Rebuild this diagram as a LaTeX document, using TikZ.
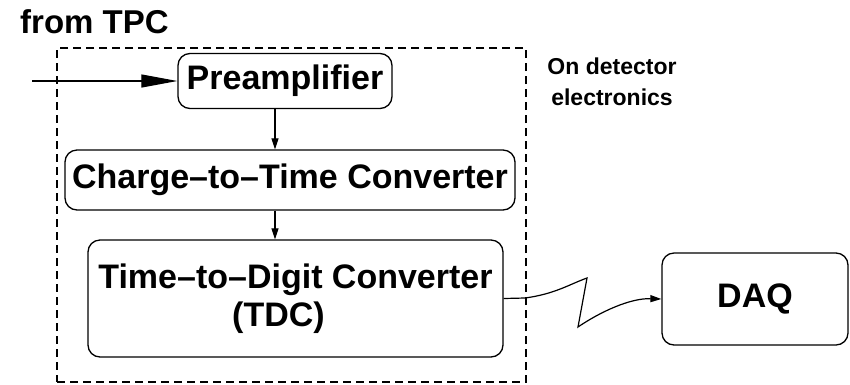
\documentclass[tikz,border=0pt]{standalone}
\usepackage{fontspec}
\setmainfont{Liberation Sans}
\usetikzlibrary{arrows.meta,calc}
\begin{document}
\begin{tikzpicture}[x=1pt,y=-1pt,
  blk/.style={draw, line width=1.3pt, rounded corners=12pt, inner sep=0pt,
    font=\fontsize{34}{38}\selectfont\bfseries, align=center},
  conn/.style={line width=1.2pt},
  smallarr/.style={conn, -{Triangle[length=11pt,width=7pt]}},
  bigarr/.style={conn, -{Triangle[length=36pt,width=13pt]}},
  detbox/.style={draw, dashed, dash pattern=on 8pt off 5pt, line width=1.3pt, inner sep=0pt}]
\useasboundingbox (0,0) rectangle (850,384);
\node[detbox, minimum width=469pt, minimum height=334pt] (det) at (291.5,215) {};
\node[blk, minimum width=214pt, minimum height=55pt] (pre) at (285,81) {Preamplifier};
\node[blk, minimum width=450pt, minimum height=60pt] (ctc) at (290,180) {Charge--to--Time Converter};
\node[blk, minimum width=415pt, minimum height=117pt] (tdc) at (295.5,298.5) {Time--to--Digit Converter\\(TDC)\hspace*{34pt}};
\node[blk, minimum width=186pt, minimum height=92pt] (daq) at (755,299) {DAQ};
\node[font=\fontsize{33}{38}\selectfont\bfseries, anchor=base west, inner sep=0pt] (from) at (20,33) {from TPC};
\node[font=\fontsize{23}{31}\selectfont\bfseries, align=center, inner sep=0pt] (ond) at (612,82) {On detector\\electronics};
\coordinate (in) at (32,81);
\coordinate (vx) at (275,0);
\draw[bigarr] (in) -- (pre.west);
\draw[smallarr] (pre.south -| vx) -- (ctc.north -| vx);
\draw[smallarr] (ctc.south -| vx) -- (tdc.north -| vx);
\draw[smallarr] (tdc.east) -- (525,298) .. controls (555,294) and (570,284) .. (587,278)
  -- (578,327) .. controls (600,312) and (630,298) .. (daq.west);
\end{tikzpicture}
\end{document}
